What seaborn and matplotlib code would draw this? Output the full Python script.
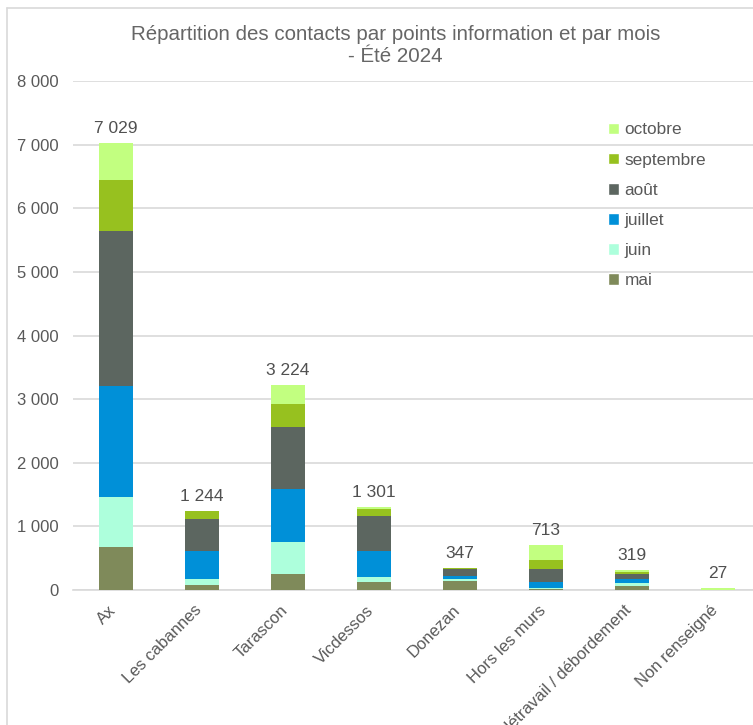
import numpy as np
import pandas as pd
import seaborn as sns
import matplotlib.pyplot as plt
import matplotlib.transforms as mtransforms
from matplotlib.patches import Patch
from matplotlib.lines import Line2D

# Points information (x axis)
points = ['Ax', 'Les cabannes', 'Tarascon', 'Vicdessos', 'Donezan',
          'Hors les murs', 'Télétravail / débordement', 'Non renseigné']

# Contacts per month
mai = [671, 79, 257, 126, 146, 15, 58, 0]
juin = [796, 89, 498, 83, 27, 20, 52, 0]
juillet = [1736, 440, 828, 409, 52, 96, 68, 0]
aout = [2442, 508, 975, 550, 100, 199, 68, 0]
septembre = [797, 128, 367, 112, 22, 147, 42, 0]
octobre = [587, 0, 299, 21, 0, 236, 31, 27]

months = ['mai', 'juin', 'juillet', 'août', 'septembre', 'octobre']
colors = ['#7F8A5A', '#ADFFDC', '#0090D8', '#5C6660', '#97C11F', '#C2FF80']

df = pd.DataFrame({'point': points, 'mai': mai, 'juin': juin, 'juillet': juillet,
                   'août': aout, 'septembre': septembre, 'octobre': octobre})
cum = df[months].cumsum(axis=1)
totals = cum['octobre'].values

sns.set_style('white')
plt.rcParams['font.family'] = ['Liberation Sans', 'DejaVu Sans']
txt = '#595959'

fig = plt.figure(figsize=(7.53, 7.25), dpi=100)
ax = fig.add_axes([73 / 753, 1 - 590 / 725, 688 / 753, 509 / 725])

# draw cumulative bars, tallest first so lower stacks sit on top
for m, c in zip(months[::-1], colors[::-1]):
    sns.barplot(x=df['point'], y=cum[m], color=c, width=0.4, ax=ax,
                saturation=1, linewidth=0, zorder=3)

ax.set_ylim(0, 8000)
ax.set_xlim(-0.5, 7.5)
ax.set_yticks(range(0, 8001, 1000))
ax.set_yticklabels([f'{v:,}'.replace(',', ' ') for v in range(0, 8001, 1000)],
                   fontsize=12, color=txt)
ax.yaxis.grid(True, color='#D9D9D9', linewidth=1.2, zorder=0)
ax.set_axisbelow(True)
for s in ['top', 'right', 'left']:
    ax.spines[s].set_visible(False)
ax.spines['bottom'].set_color('#D9D9D9')
ax.spines['bottom'].set_linewidth(1.2)
ax.tick_params(axis='y', length=0, pad=10)
ax.set_xticks(range(len(points)))
ax.set_xticklabels(points, rotation=45, ha='right', rotation_mode='anchor',
                   fontsize=12, color=txt)
ax.tick_params(axis='x', length=0, pad=9)
shift = mtransforms.ScaledTranslation(-8 / 100, 0, fig.dpi_scale_trans)
for lab in ax.get_xticklabels():
    lab.set_transform(lab.get_transform() + shift)
ax.set_xticks(np.arange(-0.5, 8, 1), minor=True)
ax.tick_params(axis='x', which='minor', length=5, color='#D9D9D9', width=1.2)
ax.set_xlabel('')
ax.set_ylabel('')

for i, t in enumerate(totals):
    ax.annotate(f'{t:,}'.replace(',', ' '), (i, t), xytext=(0, 5),
                textcoords='offset points', ha='center', va='bottom',
                fontsize=12.5, color='#505050')

fig.text(0.525, 1 - 35 / 725, 'Répartition des contacts par points information et par mois',
         ha='center', va='center', fontsize=14.8, color='#666666')
fig.text(0.525, 1 - 57 / 725, '- Été 2024', ha='center', va='center', fontsize=14.8,
         color='#666666')

handles = [Patch(facecolor=c, label=m) for m, c in zip(months[::-1], colors[::-1])]
fig.legend(handles=handles, loc='upper left', bbox_to_anchor=(592 / 753, 1 - 107 / 725),
           frameon=False, fontsize=12.4, handlelength=0.65, handleheight=0.65,
           handletextpad=0.35, labelspacing=0.88, labelcolor=txt)

# chart border
fig.add_artist(Line2D([7 / 753, 7 / 753], [0, 1 - 8 / 725], color='#D9D9D9',
                      linewidth=1.2, transform=fig.transFigure))
fig.add_artist(Line2D([7 / 753, 1], [1 - 8 / 725, 1 - 8 / 725], color='#D9D9D9',
                      linewidth=1.2, transform=fig.transFigure))

fig.savefig('out.png', dpi=100)
